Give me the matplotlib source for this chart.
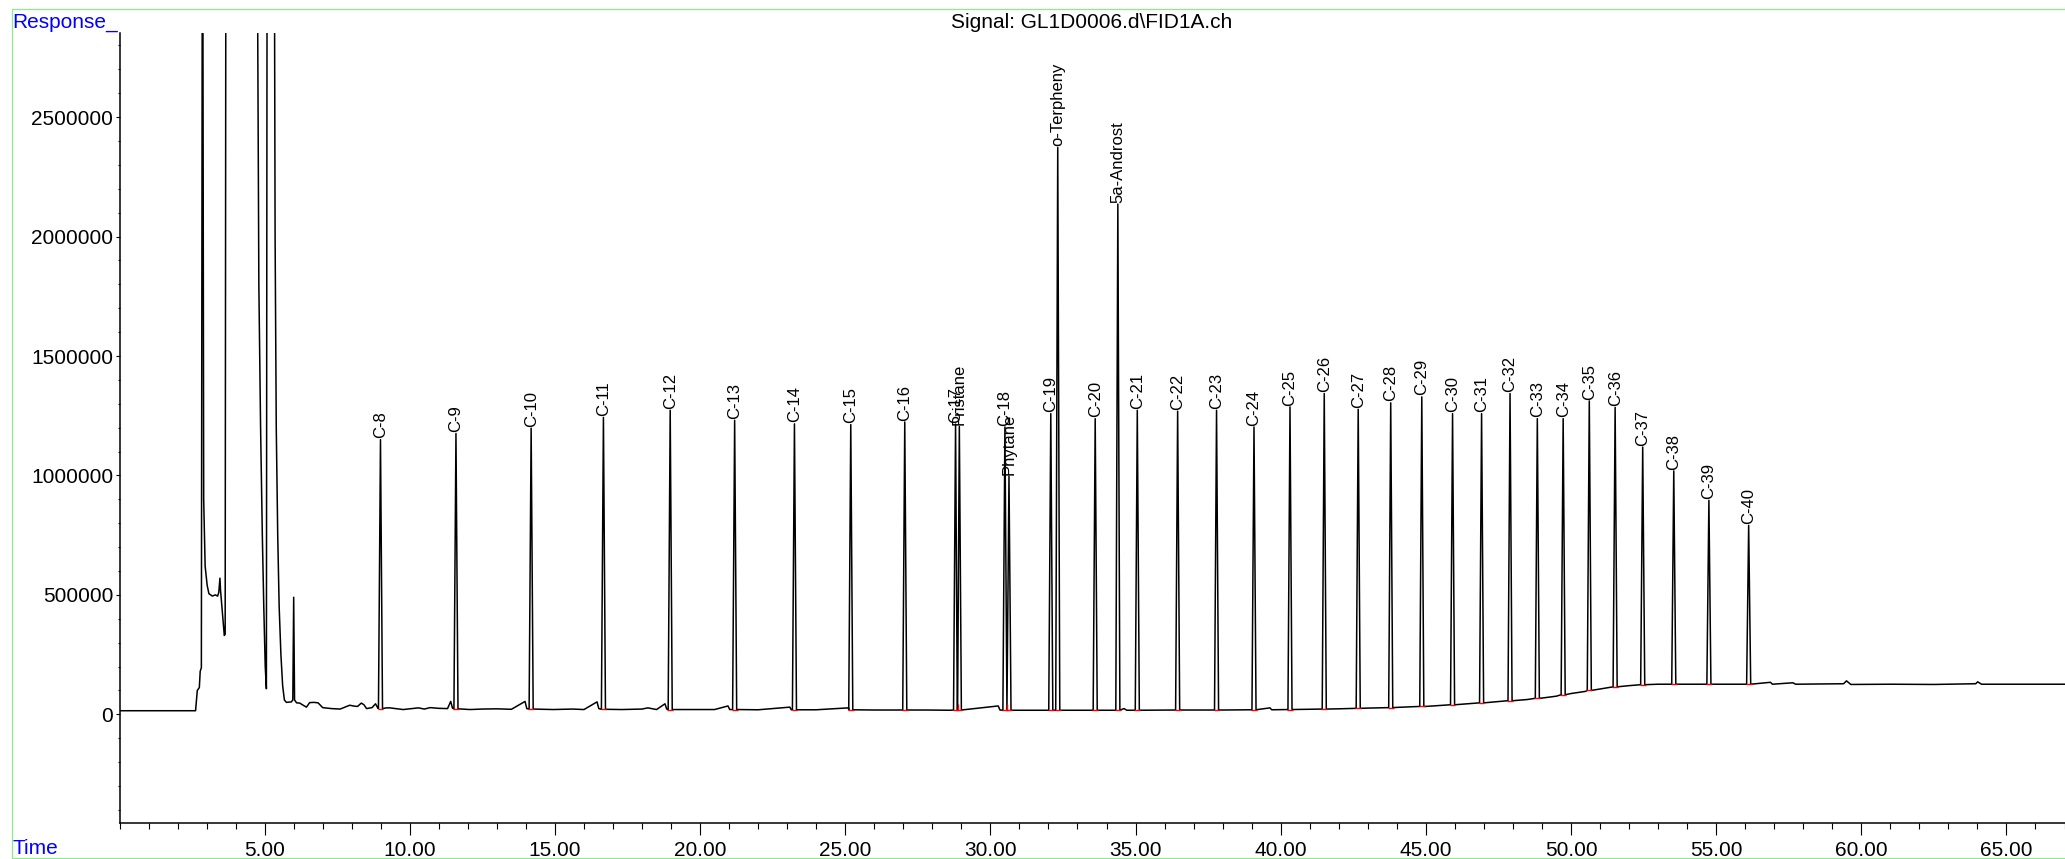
import matplotlib
matplotlib.use("Agg")
import numpy as np
from matplotlib import pyplot as plt
from matplotlib.patches import Rectangle
from matplotlib.ticker import FixedLocator, MultipleLocator, FuncFormatter

# GC-FID trace: background signal (solvent front + baseline drift), minutes vs response
trace_t = [
    0.00, 2.62, 2.65, 2.68, 2.75, 2.78, 2.82, 2.86, 2.90, 2.95, 3.02, 3.08, 3.20, 3.30,
    3.38, 3.42, 3.46, 3.48, 3.55, 3.61, 3.64, 3.67, 4.72, 4.76, 4.80, 4.86, 4.92, 4.97,
    5.02, 5.06, 5.09, 5.32, 5.36, 5.40, 5.45, 5.50, 5.56, 5.62, 5.68, 5.75, 5.92, 5.97,
    6.00, 6.03, 6.10, 6.21, 6.30, 6.44, 6.55, 6.70, 6.84, 7.00, 7.30, 7.60, 7.93, 8.10,
    8.20, 8.33, 8.42, 8.51, 8.70, 8.82, 8.90, 9.20, 9.31, 9.77, 10.30, 10.50, 10.70,
    11.00, 11.30, 11.41, 11.47, 12.07, 12.50, 13.00, 13.50, 13.97, 14.03, 14.94, 15.60,
    16.00, 16.45, 16.51, 17.30, 18.00, 18.20, 18.50, 18.79, 18.85, 19.60, 20.50, 20.96,
    21.02, 22.00, 23.09, 23.14, 24.00, 25.11, 25.14, 26.00, 27.80, 28.60, 30.27, 30.33,
    31.00, 33.00, 34.00, 34.60, 34.70, 36.00, 38.00, 39.63, 39.69, 41.00, 42.00, 43.00,
    44.00, 45.00, 46.00, 47.00, 48.00, 48.50, 49.00, 49.50, 50.00, 50.50, 51.00, 51.50,
    52.00, 52.50, 53.00, 54.00, 55.50, 56.87, 56.94, 57.64, 57.74, 59.39, 59.49, 59.64,
    61.00, 62.50, 63.94, 64.01, 64.14, 65.50, 67.00,
]
trace_v = [
    15000, 15000, 60000, 100000, 112000, 180000, 195000, 4.0e6, 900000, 620000, 540000,
    505000, 495000, 500000, 495000, 510000, 570000, 520000, 420000, 330000, 335000, 4.0e6,
    4.0e6, 2.9e6, 1.8e6, 1.2e6, 750000, 450000, 200000, 107000, 4.0e6, 4.0e6, 2.0e6,
    1.2e6, 750000, 450000, 250000, 120000, 60000, 50000, 52000, 60000, 490000, 60000,
    48000, 47000, 40000, 30000, 49000, 50000, 48000, 28000, 24000, 22000, 38000, 34000,
    33000, 47000, 40000, 24000, 28000, 44000, 26000, 27000, 27000, 20000, 27000, 22000,
    28000, 25000, 24000, 54000, 26000, 20000, 22000, 23000, 21000, 54000, 24000, 20000,
    22000, 20000, 52000, 24000, 20000, 22000, 27000, 20000, 44000, 22000, 20000, 20000,
    35000, 20000, 19000, 30000, 19000, 19000, 27000, 19000, 18000, 18000, 17000, 35000,
    18000, 17000, 17000, 17000, 24000, 17000, 18000, 18000, 27000, 19000, 21000, 23000,
    26000, 29000, 33000, 40000, 48000, 57000, 62000, 68000, 76000, 87000, 96000, 106000,
    114000, 120000, 124000, 126000, 126000, 126000, 134000, 126000, 132000, 126000,
    128000, 140000, 125000, 126000, 125000, 128000, 136000, 126000, 126000, 126000,
]

# identified peaks: name, retention time (min), apex response, integration baseline
peak_names = [
    "C-8", "C-9", "C-10", "C-11", "C-12", "C-13", "C-14", "C-15", "C-16", "C-17",
    "Pristane", "C-18", "Phytane", "C-19", "o-Terpheny", "C-20", "5a-Androst", "C-21",
    "C-22", "C-23", "C-24", "C-25", "C-26", "C-27", "C-28", "C-29", "C-30", "C-31",
    "C-32", "C-33", "C-34", "C-35", "C-36", "C-37", "C-38", "C-39", "C-40",
]
peak_rt = [
    8.99, 11.59, 14.18, 16.67, 18.97, 21.19, 23.25, 25.19, 27.05, 28.80,
    28.93, 30.50, 30.64, 32.08, 32.32, 33.61, 34.39, 35.06,
    36.45, 37.79, 39.08, 40.32, 41.50, 42.67, 43.79, 44.86, 45.92, 46.92,
    47.90, 48.84, 49.73, 50.63, 51.52, 52.47, 53.54, 54.75, 56.12,
]
peak_apex = [
    1150000, 1176000, 1198000, 1243000, 1273000, 1231000, 1216000, 1213000, 1224000, 1215000,
    1205000, 1203000, 997000, 1259000, 2373000, 1238000, 2136000, 1273000,
    1269000, 1273000, 1203000, 1287000, 1343000, 1277000, 1304000, 1329000, 1259000, 1259000,
    1343000, 1238000, 1238000, 1312000, 1285000, 1119000, 1019000, 896000, 791000,
]
peak_base = [
    24000, 23000, 22000, 21000, 20000, 20000, 19000, 19000, 18000, 18000,
    18000, 17000, 17000, 17000, 17000, 17000, 17000, 17000,
    18000, 18000, 19000, 20000, 22000, 25000, 28000, 33000, 40000, 48000,
    57000, 67000, 82000, 100000, 115000, 124000, 126000, 126000, 126000,
]

# drop lines between co-eluting pairs
drop_t = [28.87, 30.57]
drop_low = [18000, 17000]
drop_top = [45000, 45000]

TITLE = "Signal: GL1D0006.d\\FID1A.ch"
PEAK_HALF_WIDTH = 0.07   # min
MARK_HALF_WIDTH = 0.10   # min

W, H, DPI = 2065, 859, 100
X0_PX, PX_PER_MIN = 119.5, 29.03
plt.rcParams["font.family"] = ["Liberation Sans", "DejaVu Sans"]


def build_trace():
    """Merge the background points with a narrow spike for each peak."""
    pts = [(t, v) for t, v in zip(trace_t, trace_v)
           if all(abs(t - rt) > PEAK_HALF_WIDTH for rt in peak_rt)]
    for rt, apex, base in zip(peak_rt, peak_apex, peak_base):
        pts += [(rt - PEAK_HALF_WIDTH, base), (rt, apex), (rt + PEAK_HALF_WIDTH, base)]
    pts.sort()
    t, v = zip(*pts)
    return np.array(t), np.array(v)


def px(x, y):
    """Pixel position (top-left origin) to figure fraction."""
    return x / W, 1 - y / H


fig = plt.figure(figsize=(W / DPI, H / DPI), dpi=DPI)
fig.patch.set_facecolor("white")

x0, y_top = px(X0_PX, 33.3)
_, y_bot = px(0, 823)
ax = fig.add_axes([x0, y_bot, 1 - x0, y_top - y_bot])

t, v = build_trace()
ax.plot(t, v, color="black", lw=1.1, zorder=3)

# integration baselines under each peak
rt = np.array(peak_rt)
ax.hlines(peak_base, rt - MARK_HALF_WIDTH, rt + MARK_HALF_WIDTH,
          color="red", lw=1.0, zorder=4)
ax.vlines(drop_t, drop_low, drop_top, color="red", lw=1.0, zorder=4)

for name, r, apex in zip(peak_names, peak_rt, peak_apex):
    ax.annotate(name, (r, apex), xytext=(0, 1), textcoords="offset points",
                rotation=90, ha="center", va="bottom", fontsize=12, zorder=5)

ax.set_xlim(0, (W - X0_PX) / PX_PER_MIN)
ax.set_ylim(-455000, 2851000)

for side in ("top", "right"):
    ax.spines[side].set_visible(False)
for side in ("left", "bottom"):
    ax.spines[side].set_linewidth(1.1)

ax.xaxis.set_major_locator(FixedLocator(np.arange(5, 66, 5)))
ax.xaxis.set_minor_locator(MultipleLocator(1))
ax.xaxis.set_major_formatter(FuncFormatter(lambda x, _: f"{x:.2f}"))
ax.yaxis.set_major_locator(FixedLocator(np.arange(0, 2500001, 500000)))
ax.yaxis.set_minor_locator(MultipleLocator(100000))
ax.yaxis.set_major_formatter(FuncFormatter(lambda y, _: f"{y:.0f}"))

ax.tick_params(axis="x", which="major", direction="out", length=8.6, width=0.8,
               labelsize=15, pad=4)
ax.tick_params(axis="x", which="minor", direction="out", length=4.3, width=0.8)
ax.tick_params(axis="y", which="major", direction="out", length=3, width=0.8,
               labelsize=15, pad=1.5)
ax.tick_params(axis="y", which="minor", direction="out", length=1.5, width=0.8)

# header texts and the outer frame
fig.text(*px(1092, 22), TITLE, ha="center", va="center", fontsize=15)
fig.text(*px(12.3, 22), "Response_", ha="left", va="center", fontsize=15, color="#0000ff")
fig.text(*px(12.3, 848), "Time", ha="left", va="center", fontsize=15, color="#0000ff")

fx, fy = px(11.7, 858.3)
_, fy2 = px(0, 9.3)
fig.add_artist(Rectangle((fx, fy), 1.2, fy2 - fy, transform=fig.transFigure,
                         fill=False, edgecolor="#8ee88e", lw=0.9))

fig.savefig("out.png", dpi=DPI)
